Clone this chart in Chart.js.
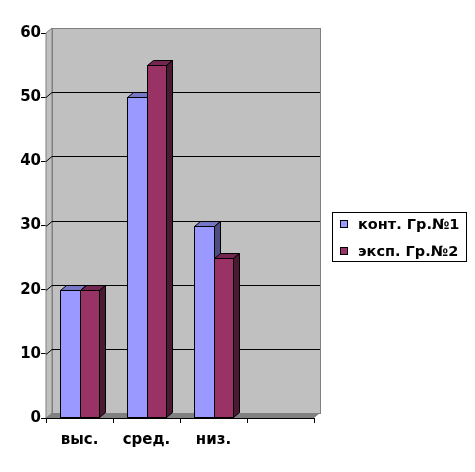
<!DOCTYPE html>
<html lang="ru">
<head>
<meta charset="UTF-8">
<title>Уровни</title>
<script src="https://cdn.jsdelivr.net/npm/chart.js"></script>
<style>
  html, body { margin: 0; padding: 0; background: #fff; }
  #wrap { width: 475px; height: 472px; }
</style>
</head>
<body>
<div id="wrap"><canvas id="chart" width="475" height="472"></canvas></div>
<script>
// data (4th category is empty)
const categories = ['выс.', 'сред.', 'низ.', ''];
const seriesNames = ['конт. Гр.№1', 'эксп. Гр.№2'];
const group1 = [20, 50, 30];
const group2 = [20, 55, 25];
const yTicks = [0, 10, 20, 30, 40, 50, 60];

const FRONT = ['#9999FF', '#993366'];
const TOP = ['#7676C6', '#732650'];
const SIDE = ['#4D4D80', '#4A1A33'];
const DX = 6, DY = 5; // depth offset

const font = 'DejaVu Sans, sans-serif';

const walls = {
    id: 'walls',
    // walls, floor and gridlines behind the bars
    beforeDatasetsDraw(chart) {
        const { ctx, chartArea: a, scales: { y } } = chart;
        ctx.save();
        ctx.lineWidth = 1;
        ctx.fillStyle = '#C0C0C0';
        ctx.strokeStyle = '#808080';
        ctx.beginPath();
        ctx.moveTo(a.left, a.top);
        ctx.lineTo(a.left + DX, a.top - DY);
        ctx.lineTo(a.left + DX, a.bottom - DY);
        ctx.lineTo(a.left, a.bottom);
        ctx.closePath();
        ctx.fill();
        ctx.stroke();
        ctx.fillRect(a.left + DX, a.top - DY, a.width, a.height);
        ctx.strokeRect(a.left + DX + 0.5, a.top - DY + 0.5, a.width, a.height);
        ctx.fillStyle = '#808080';
        ctx.beginPath();
        ctx.moveTo(a.left, a.bottom);
        ctx.lineTo(a.right, a.bottom);
        ctx.lineTo(a.right + DX, a.bottom - DY);
        ctx.lineTo(a.left + DX, a.bottom - DY);
        ctx.closePath();
        ctx.fill();
        ctx.strokeStyle = '#000';
        yTicks.forEach(v => {
            if (v === 0 || v === 60) return;
            const py = Math.round(y.getPixelForValue(v)) + 0.5;
            ctx.beginPath();
            ctx.moveTo(a.left, py);
            ctx.lineTo(a.left + DX, py - DY);
            ctx.lineTo(a.right + DX, py - DY);
            ctx.stroke();
        });
        ctx.restore();
    },
    // 3D boxes from the bar elements, series 1 first so series 2 sits in front
    afterDatasetsDraw(chart) {
        const { ctx } = chart;
        ctx.save();
        ctx.lineWidth = 1;
        ctx.strokeStyle = '#000';
        const metas = [chart.getDatasetMeta(0), chart.getDatasetMeta(1)];
        for (let c = 0; c < categories.length; c++) {
            metas.forEach((meta, i) => {
                const bar = meta.data[c];
                if (!bar) return;
                const { x, y, base, width } = bar.getProps(['x', 'y', 'base', 'width'], true);
                const r = Math.round(x + width / 2) + 0.5;
                const l = Math.round(x - width / 2) + 0.5;
                const t = Math.round(y) + 0.5;
                const b = Math.round(base) - 0.5;
                ctx.fillStyle = FRONT[i];
                ctx.fillRect(l, t, r - l, b - t);
                ctx.strokeRect(l, t, r - l, b - t);
                ctx.fillStyle = TOP[i];
                ctx.beginPath();
                ctx.moveTo(l, t);
                ctx.lineTo(l + DX, t - DY);
                ctx.lineTo(r + DX, t - DY);
                ctx.lineTo(r, t);
                ctx.closePath();
                ctx.fill();
                ctx.stroke();
                ctx.fillStyle = SIDE[i];
                ctx.beginPath();
                ctx.moveTo(r, t);
                ctx.lineTo(r + DX, t - DY);
                ctx.lineTo(r + DX, b - DY);
                ctx.lineTo(r, b);
                ctx.closePath();
                ctx.fill();
                ctx.stroke();
            });
        }
        ctx.restore();
    },
    // boxed legend on the right
    afterDraw(chart) {
        const { ctx } = chart;
        ctx.save();
        ctx.fillStyle = '#fff';
        ctx.strokeStyle = '#000';
        ctx.lineWidth = 1;
        ctx.fillRect(332, 212, 134, 49);
        ctx.strokeRect(332.5, 212.5, 134, 49);
        ctx.font = 'bold 14.5px ' + font;
        ctx.textBaseline = 'middle';
        seriesNames.forEach((name, i) => {
            const cy = 224 + i * 27;
            ctx.fillStyle = FRONT[i];
            ctx.fillRect(340, cy - 4, 7, 7);
            ctx.strokeRect(340.5, cy - 3.5, 7, 7);
            ctx.fillStyle = '#000';
            ctx.fillText(name, 358, cy + 1);
        });
        ctx.restore();
    }
};

new Chart(document.getElementById('chart'), {
    type: 'bar',
    data: {
        labels: categories,
        datasets: [{
            label: seriesNames[0],
            data: group1,
            backgroundColor: 'rgba(0,0,0,0)',
            borderWidth: 0
        }, {
            label: seriesNames[1],
            data: group2,
            backgroundColor: 'rgba(0,0,0,0)',
            borderWidth: 0
        }]
    },
    options: {
        responsive: false,
        animation: false,
        events: [],
        categoryPercentage: 0.58,
        barPercentage: 1,
        layout: { padding: { top: 33, right: 161, left: 0, bottom: 0 } },
        plugins: {
            legend: { display: false },
            tooltip: { enabled: false }
        },
        scales: {
            x: {
                offset: true,
                grid: { offset: true, drawOnChartArea: false, color: '#000', tickLength: 5 },
                border: { color: '#000' },
                ticks: { color: '#000', padding: 8, font: { family: font, size: 15, weight: 'bold' } },
                afterFit(s) { s.height = 54; }
            },
            y: {
                min: 0,
                max: 60,
                afterBuildTicks(s) { s.ticks = yTicks.map(v => ({ value: v })); },
                grid: { drawOnChartArea: false, color: '#000', tickLength: 5 },
                border: { color: '#000' },
                ticks: { color: '#000', padding: 0, font: { family: font, size: 15, weight: 'bold' } },
                afterFit(s) { s.width = 46; }
            }
        }
    },
    plugins: [walls]
});
</script>
</body>
</html>
